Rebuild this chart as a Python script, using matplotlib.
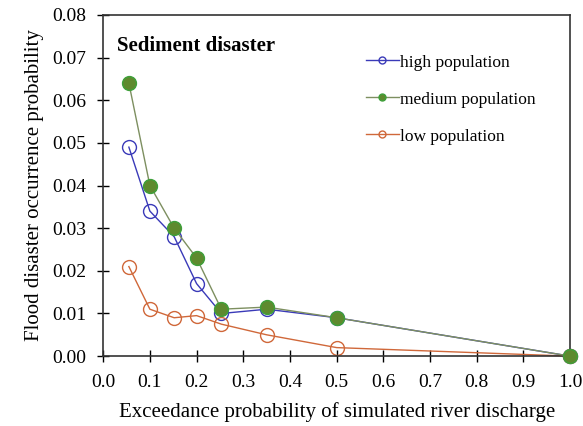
import numpy as np
import matplotlib
matplotlib.use("Agg")
import matplotlib.pyplot as plt

plt.rcParams['font.family'] = ['Liberation Serif', 'DejaVu Serif']

# exceedance probability of simulated river discharge
x = [0.055, 0.1, 0.152, 0.2, 0.253, 0.35, 0.5, 1.0]
high = [0.049, 0.034, 0.028, 0.017, 0.010, 0.011, 0.009, 0.0]
medium = [0.064, 0.040, 0.030, 0.023, 0.011, 0.0115, 0.009, 0.0]
low = [0.021, 0.011, 0.009, 0.0095, 0.0075, 0.005, 0.002, 0.0]

fig = plt.figure(figsize=(5.83, 4.26), dpi=100)
ax = fig.add_axes([0.177, 0.164, 0.801, 0.801])

ax.plot(x, high, color='#3a3ab8', lw=1, marker='o', ms=10, clip_on=False,
        mfc='none', mec='#3a3ab8', mew=1, label='high population')
ax.plot(x, medium, color='#7d8f60', lw=1, marker='o', ms=10, clip_on=False,
        mfc='#5e8a2e', mec='#3ea03a', mew=1, label='medium population', zorder=4)
ax.plot(x, low, color='#d0683a', lw=1, marker='o', ms=10, clip_on=False,
        mfc='none', mec='#d0683a', mew=1, label='low population')

ax.set_xlim(0, 1.0)
ax.set_ylim(0, 0.08)
ax.set_xticks(np.arange(0, 1.01, 0.1))
ax.set_yticks(np.arange(0, 0.081, 0.01))
ax.xaxis.set_major_formatter(matplotlib.ticker.FormatStrFormatter('%.1f'))
ax.yaxis.set_major_formatter(matplotlib.ticker.FormatStrFormatter('%.2f'))
ax.tick_params(direction='inout', length=8, width=1, labelsize=14, colors='black')
ax.tick_params(axis='x', pad=9)
ax.tick_params(axis='y', pad=8)
for s in ax.spines.values():
    s.set_linewidth(1.2)
    s.set_color('#333333')

ax.set_xlabel('Exceedance probability of simulated river discharge', fontsize=15, labelpad=8)
ax.set_ylabel('Flood disaster occurrence probability', fontsize=15, labelpad=6)

ax.text(0.03, 0.91, 'Sediment disaster', transform=ax.transAxes,
        fontsize=15, fontweight='bold', va='center')

ax.legend(loc='upper right', bbox_to_anchor=(0.96, 0.93), frameon=False,
          fontsize=12.5, handlelength=1.9, handletextpad=0.1, labelspacing=1.2,
          markerscale=0.5)

fig.savefig('out.png', dpi=100)
